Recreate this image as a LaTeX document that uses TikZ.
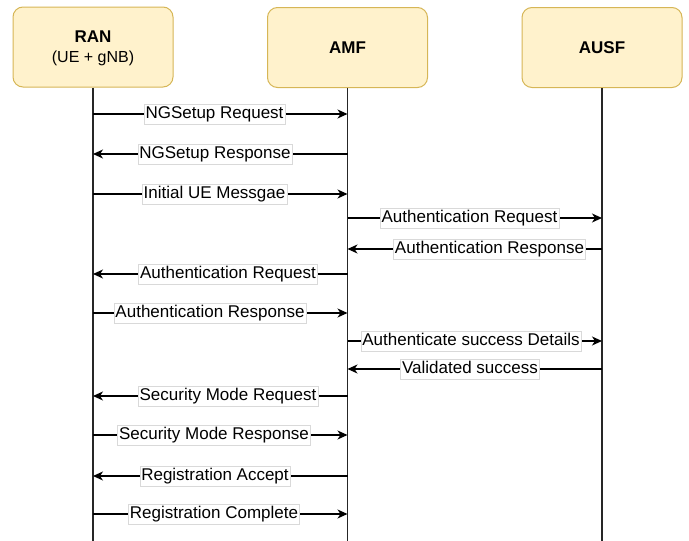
\documentclass[tikz,border=0pt]{standalone}
\usepackage{fontspec}
\setmainfont{Liberation Sans}
\usetikzlibrary{arrows.meta}
\definecolor{boxfill}{HTML}{FFF2CC}
\definecolor{boxdraw}{HTML}{D6B656}
\newcommand{\seqmsg}[5]{%
  \draw[msg] (#1.south |- 0,#3) -- (#2.south |- 0,#3);
  \node[lab] at (#4,#3) {#5};}
\begin{document}
\begin{tikzpicture}[x=1pt,y=-1pt,
  actor/.style={draw=boxdraw, fill=boxfill, rounded corners=10pt, minimum width=160pt, minimum height=80pt, line width=1pt, font=\fontsize{16}{20}\selectfont, align=center, inner sep=0pt},
  life/.style={line width=1.3pt, draw=black!85},
  msg/.style={line width=1.2pt, -{Stealth[length=10pt,width=9pt,inset=3pt]}},
  lab/.style={fill=white, draw=black!15, line width=0.5pt, inner xsep=1.5pt, inner ysep=2pt, text height=12.5pt, text depth=3.5pt, font=\fontsize{17}{20}\selectfont}]
\useasboundingbox (0,0) rectangle (689,541);
\node[actor] (RAN) at (93,47) {\rule{0pt}{15pt}{\fontsize{17}{20}\selectfont\bfseries RAN}\\(UE + gNB)};
\node[actor, font=\fontsize{17}{20}\selectfont\bfseries] (AMF) at (347.5,47.5) {AMF};
\node[actor, font=\fontsize{17}{20}\selectfont\bfseries] (AUSF) at (602,47.5) {AUSF};
\coordinate (bot) at (0,541);
\draw[life] (RAN.south) -- (RAN.south |- bot);
\draw[life] (AMF.south) -- (AMF.south |- bot);
\draw[life] (AUSF.south) -- (AUSF.south |- bot);
\seqmsg{RAN}{AMF}{114}{214.5}{NGSetup Request}
\seqmsg{AMF}{RAN}{154}{215}{NGSetup Response}
\seqmsg{RAN}{AMF}{194}{214.5}{Initial UE Messgae}
\seqmsg{AMF}{AUSF}{218}{469.5}{Authentication Request}
\seqmsg{AUSF}{AMF}{249}{489.5}{Authentication Response}
\seqmsg{AMF}{RAN}{274}{228}{Authentication Request}
\seqmsg{RAN}{AMF}{313}{210}{Authentication Response}
\seqmsg{AMF}{AUSF}{341}{471}{Authenticate success Details}
\seqmsg{AUSF}{AMF}{369}{470}{Validated success}
\seqmsg{AMF}{RAN}{396}{228}{Security Mode Request}
\seqmsg{RAN}{AMF}{435}{214}{Security Mode Response}
\seqmsg{AMF}{RAN}{476}{215}{Registration Accept}
\seqmsg{RAN}{AMF}{514}{214}{Registration Complete}
\end{tikzpicture}
\end{document}
